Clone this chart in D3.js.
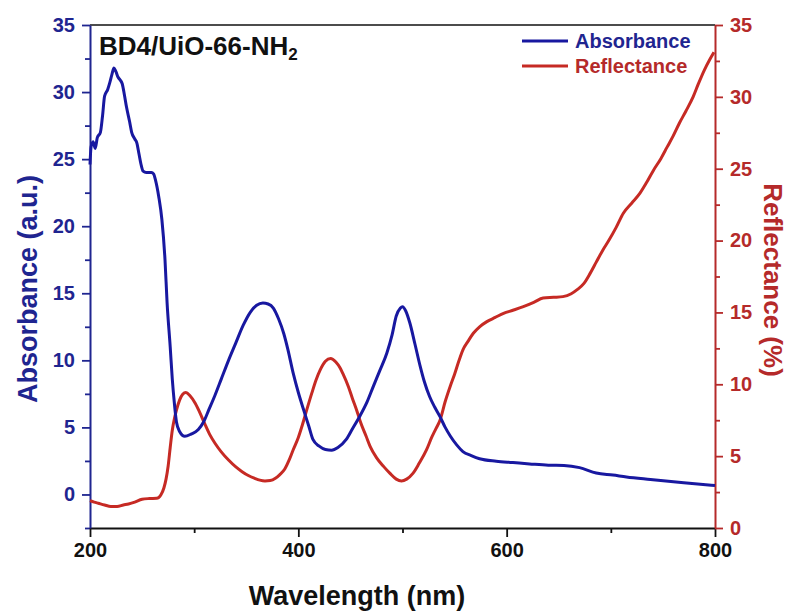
<!DOCTYPE html>
<html>
<head>
<meta charset="utf-8">
<script src="https://cdn.jsdelivr.net/npm/d3@7"></script>
<style>
  html, body { margin: 0; padding: 0; background: #fff; }
  svg { display: block; font-family: "Liberation Sans", Arial, sans-serif; font-weight: bold; }
</style>
</head>
<body>
<svg id="chart" width="793" height="611"></svg>
<script>
// UV-vis spectra of BD4/UiO-66-NH2: absorbance (left axis) and reflectance (right axis)
const absWavelength = [200,201,203,205,207,210,212,214,217,219,221,223,225,227,229,231,233,235,238,240,243,245,247,249,251,254,257,259,261,263,266,269,272,274,277,279,281,283,286,291,297,304,309,314,320,326,333,340,347,354,360,366,371,376,381,386,390,395,400,405,410,414,420,426,432,438,446,452,459,466,472,478,485,490,494,498,500,503,507,512,517,521,526,531,536,541,546,552,558,566,574,590,606,622,640,655,670,686,702,715,738,770,800];
const absValues = [24.6,25.9,26.3,25.8,26.6,27.0,28.2,29.7,30.2,30.7,31.3,31.8,31.5,31.1,30.9,30.6,29.8,28.9,27.8,27.0,26.5,26.2,25.4,24.6,24.1,24.0,24.0,24.0,23.9,23.4,22.2,20.5,17.5,14.3,11.0,8.6,6.8,5.4,4.7,4.34,4.5,4.84,5.4,6.3,7.4,8.6,10.0,11.3,12.6,13.6,14.1,14.27,14.2,13.9,13.1,12.0,10.8,9.06,7.6,6.33,5.1,4.1,3.6,3.35,3.3,3.5,4.1,4.9,5.83,6.9,8.06,9.2,10.55,11.9,13.3,13.9,14.0,13.7,12.8,11.2,9.55,8.4,7.3,6.5,5.8,5.0,4.34,3.7,3.2,2.9,2.66,2.48,2.38,2.28,2.18,2.16,2.0,1.6,1.45,1.31,1.12,0.87,0.66];

const refWavelength = [200,204,208,214,220,226,232,237,243,250,257,264,268,271,273,275,277,279,281,283,286,289,292,296,301,305,310,315,320,326,333,340,346,352,358,363,368,373,378,382,387,391,395,400,404,408,413,417,421,426,431,436,440,443,448,452,456,460,465,469,475,482,488,494,499,504,510,516,523,528,532,536,541,546,550,554,558,563,568,574,581,589,597,606,616,626,635,645,654,662,668,674,680,686,692,698,705,712,720,728,734,741,748,754,760,766,772,779,784,790,795,799];
const refValues = [1.9,1.8,1.72,1.6,1.5,1.5,1.6,1.67,1.8,2.0,2.05,2.07,2.3,2.8,3.4,4.3,5.6,6.8,7.6,8.2,8.9,9.3,9.42,9.2,8.68,8.1,7.28,6.5,5.9,5.3,4.73,4.25,3.92,3.65,3.46,3.33,3.27,3.3,3.46,3.7,4.1,4.7,5.43,6.3,7.2,8.2,9.4,10.3,11.0,11.6,11.8,11.55,11.15,10.7,9.85,9.0,8.2,7.3,6.4,5.66,4.9,4.27,3.8,3.4,3.27,3.4,3.8,4.5,5.43,6.3,6.9,7.5,8.8,9.9,10.7,11.6,12.4,13.0,13.55,14.0,14.36,14.65,14.94,15.15,15.4,15.7,16.0,16.05,16.1,16.3,16.6,17.0,17.7,18.5,19.3,20.0,20.9,21.9,22.6,23.3,24.0,24.9,25.7,26.5,27.3,28.2,29.0,30.0,30.9,31.9,32.6,33.1];

const xTicks = [200, 400, 600, 800];
const leftTicks = [0, 5, 10, 15, 20, 25, 30, 35];
const rightTicks = [0, 5, 10, 15, 20, 25, 30, 35];
const seriesNames = ["Absorbance", "Reflectance"];

const BLUE = "#1818a0", BLUE_TEXT = "#1f2590";
const RED = "#c62a24", RED_TEXT = "#b52a2a";

const svg = d3.select("#chart");
const m = { left: 90, right: 715, top: 25, bottom: 528 };

const x = d3.scaleLinear().domain([200, 800]).range([m.left, m.right]);
const yL = d3.scaleLinear().domain([-2.5, 35]).range([m.bottom, m.top]);
const yR = d3.scaleLinear().domain([0, 35]).range([m.bottom, m.top]);

// top frame line
svg.append("line").attr("x1", m.left).attr("x2", m.right)
  .attr("y1", m.top).attr("y2", m.top).attr("stroke", "#111").attr("stroke-width", 1.5);

function styleAxis(g, color, fontSize) {
  g.select(".domain").attr("stroke", color).attr("stroke-width", 2);
  g.selectAll(".tick line").attr("stroke", color).attr("stroke-width", 1.8);
  g.selectAll(".tick text").attr("fill", color).attr("font-size", fontSize)
    .attr("font-weight", "bold").attr("font-family", "Liberation Sans, Arial, sans-serif");
}

// minor ticks
const minorX = [300, 500, 700];
const minorL = [-2.5, 2.5, 7.5, 12.5, 17.5, 22.5, 27.5, 32.5];
const minorR = [2.5, 7.5, 12.5, 17.5, 22.5, 27.5, 32.5];

svg.append("g").attr("transform", `translate(0,${m.bottom})`)
  .call(d3.axisBottom(x).tickValues(minorX).tickSize(5).tickFormat(""))
  .call(g => { g.select(".domain").remove(); g.selectAll("line").attr("stroke", "#111").attr("stroke-width", 1.8); });
svg.append("g").attr("transform", `translate(${m.left},0)`)
  .call(d3.axisLeft(yL).tickValues(minorL).tickSize(5).tickFormat(""))
  .call(g => { g.select(".domain").remove(); g.selectAll("line").attr("stroke", BLUE_TEXT).attr("stroke-width", 1.8); });
svg.append("g").attr("transform", `translate(${m.right},0)`)
  .call(d3.axisRight(yR).tickValues(minorR).tickSize(5).tickFormat(""))
  .call(g => { g.select(".domain").remove(); g.selectAll("line").attr("stroke", RED_TEXT).attr("stroke-width", 1.8); });

// major axes
svg.append("g").attr("transform", `translate(0,${m.bottom})`)
  .call(d3.axisBottom(x).tickValues(xTicks).tickSize(9).tickSizeOuter(0).tickPadding(6))
  .call(g => styleAxis(g, "#111", 20));
svg.append("g").attr("transform", `translate(${m.left},0)`)
  .call(d3.axisLeft(yL).tickValues(leftTicks).tickSize(8).tickSizeOuter(0).tickPadding(7))
  .call(g => styleAxis(g, BLUE_TEXT, 20));
svg.append("g").attr("transform", `translate(${m.right},0)`)
  .call(d3.axisRight(yR).tickValues(rightTicks).tickSize(8).tickSizeOuter(0).tickPadding(7))
  .call(g => styleAxis(g, RED_TEXT, 20));

// spectra
const absData = absWavelength.map((w, i) => [w, absValues[i]]);
const refData = refWavelength.map((w, i) => [w, refValues[i]]);

svg.append("path").datum(refData)
  .attr("fill", "none").attr("stroke", RED).attr("stroke-width", 3).attr("stroke-linejoin", "round")
  .attr("d", d3.line().x(d => x(d[0])).y(d => yR(d[1])).curve(d3.curveMonotoneX));
svg.append("path").datum(absData)
  .attr("fill", "none").attr("stroke", BLUE).attr("stroke-width", 3).attr("stroke-linejoin", "round")
  .attr("d", d3.line().x(d => x(d[0])).y(d => yL(d[1])).curve(d3.curveMonotoneX));

// axis titles
svg.append("text").attr("x", 357).attr("y", 605)
  .attr("text-anchor", "middle").attr("font-size", 27).attr("fill", "#111")
  .text("Wavelength (nm)");
svg.append("text").attr("transform", `translate(37,289) rotate(-90)`)
  .attr("text-anchor", "middle").attr("font-size", 27).attr("fill", BLUE_TEXT)
  .text("Absorbance (a.u.)");
svg.append("text").attr("transform", `translate(764,280) rotate(90)`)
  .attr("text-anchor", "middle").attr("font-size", 26).attr("fill", RED_TEXT)
  .text("Reflectance (%)");

// sample label
const title = svg.append("text").attr("x", 99).attr("y", 55).attr("font-size", 26).attr("fill", "#111");
title.append("tspan").text("BD4/UiO-66-NH");
title.append("tspan").attr("font-size", 17).attr("dy", 5).text("2");

// legend
const legendColors = [BLUE, RED];
const legendText = [BLUE_TEXT, RED_TEXT];
seriesNames.forEach((name, i) => {
  const yy = 41 + i * 25;
  svg.append("line").attr("x1", 522).attr("x2", 568).attr("y1", yy).attr("y2", yy)
    .attr("stroke", legendColors[i]).attr("stroke-width", 3);
  svg.append("text").attr("x", 575).attr("y", yy + 7).attr("font-size", 20)
    .attr("fill", legendText[i]).text(name);
});
</script>
</body>
</html>
